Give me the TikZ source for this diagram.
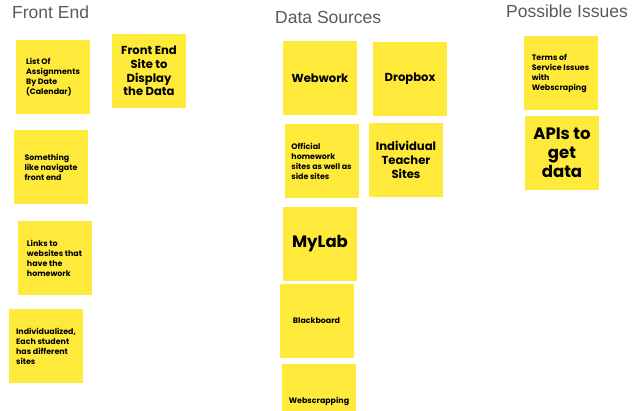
\documentclass[tikz,border=0pt]{standalone}
\usepackage{fontspec}
\setmainfont{Poppins}
\newfontfamily\titlefont{Liberation Sans}
\definecolor{stickyyellow}{RGB}{255,234,59}
\definecolor{titlegray}{RGB}{90,90,90}
\begin{document}
\begin{tikzpicture}[x=1pt,y=-1pt,
  sticky/.style={fill=stickyyellow, draw=none, minimum width=74pt, minimum height=74pt, inner sep=0pt, align=left, text=black},
  smalltxt/.style={font=\fontsize{7.9}{10}\selectfont\bfseries},
  midtxt/.style={font=\fontsize{11.6}{13.8}\selectfont\bfseries, align=center},
  bigtxt/.style={font=\fontsize{16.5}{19}\selectfont\bfseries, align=center},
  title/.style={font=\titlefont\fontsize{17.5}{20}\selectfont, text=titlegray, anchor=base west, inner sep=0pt}]
\clip (0,0) rectangle (636,411);
\fill[white] (0,0) rectangle (636,411);
% titles
\node[title] (tfront) at (12,19) {Front End};
\node[title] (tdata) at (275,23.3) {Data Sources};
\node[title] (tissues) at (506,17.3) {Possible Issues};
% front end
\node[sticky, smalltxt] (list) at (53,77) {List Of\\Assignments\\By Date\\(Calendar)};
\node[sticky, midtxt] (site) at (149,71) {Front End\\Site to\\Display\\the Data};
\node[sticky, smalltxt] (navigate) at (51,167) {Something\\like navigate\\front end};
\node[sticky, smalltxt] (links) at (54.5,258) {Links to\\websites that\\have the\\homework};
\node[sticky, smalltxt] (indiv) at (46,346) {Individualized,\\Each student\\has different\\sites};
% data sources
\node[sticky, midtxt] (webwork) at (320,78) {Webwork};
\node[sticky, midtxt] (dropbox) at (410,79) {Dropbox};
\node[sticky, smalltxt] (official) at (321.5,161.5) {Official\\homework\\sites as well as\\side sites};
\node[sticky, midtxt] (teacher) at (406,160) {Individual\\Teacher\\Sites};
\node[sticky, bigtxt] (mylab) at (320,244) {MyLab};
\node[sticky, smalltxt] (blackboard) at (316.5,321) {Blackboard};
\node[sticky, smalltxt] (webscrap) at (319,401) {Webscrapping};
% possible issues
\node[sticky, smalltxt] (terms) at (560.5,73) {Terms of\\Service Issues\\with\\Webscraping};
\node[sticky, bigtxt] (apis) at (562,153) {APIs to\\get\\data};
\end{tikzpicture}
\end{document}
